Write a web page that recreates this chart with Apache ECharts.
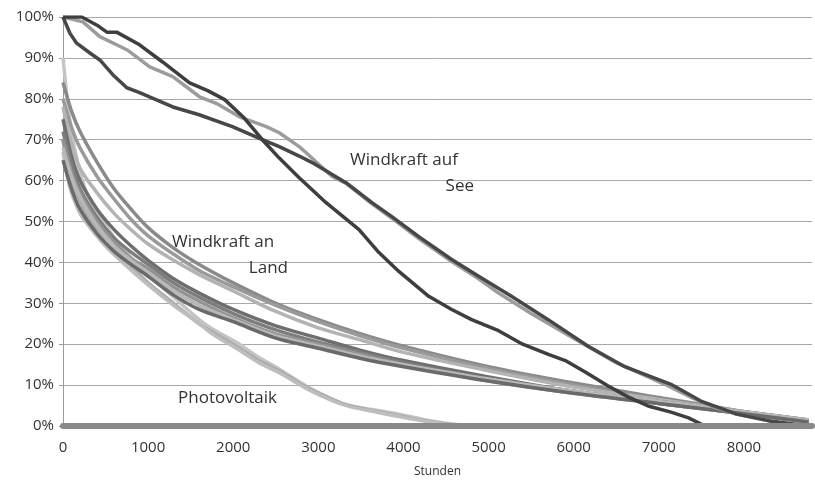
<!DOCTYPE html>
<html>
<head>
<meta charset="utf-8">
<script src="https://cdn.jsdelivr.net/npm/echarts@6/dist/echarts.min.js"></script>
<style>html,body{margin:0;padding:0;background:#fff;}#c{width:815px;height:483px;}</style>
</head>
<body>
<div id="c"></div>
<script>
// ---- Data ----
// Windkraft auf See (offshore)
const hoursSeeA = [0,220,400,515,630,900,1170,1487,1700,1900,2120,2342,2541,2775,3091,3478,3712,3946,4297,4567,4801,5117,5400,5703,5902,6150,6405,6650,6874,7143,7350,7541,8760];
const seeA = [100,100,98,96.3,96.3,93.2,89,83.9,82,79.8,75.5,70,65.5,60.7,54.6,48,42.4,37.8,31.7,28.5,26,23.3,20,17.5,16,13,9.8,7,4.9,3.4,2,0,0];
const hoursSeeB = [0,82,160,316,433,585,750,900,1290,1600,1990,2342,2541,2775,2927,3325,3630,3864,4180,4567,4883,5269,5700,6170,6600,7143,7494,7900,8313,8760];
const seeB = [100,96,93.6,91.2,89.5,85.9,82.7,81.5,78,76.1,73.2,70,68.3,66,64.4,59.5,54.6,51.2,46.3,40.7,36.6,31.7,26,19.5,14.5,10.2,6.1,3,1.2,0];
const hoursSeeC = [0,234,433,750,1019,1290,1604,1800,2073,2390,2541,2775,2857,3162,3325,3630,3864,4180,4567,4883,5117,5500,6018,6500,7070,7400,7611,7900,8243,8500,8760];
const seeC = [100,98.8,95.2,92,87.8,85.4,80.5,78.9,75.6,73.2,71.7,68.3,66.8,61,59.3,54.3,50.8,45.8,40.2,36,32.5,27.5,21.2,15.5,10.2,6.8,4.9,3,1.5,0.3,0];

// Windkraft an Land (onshore)
const hoursLand = [0,100,200,400,600,800,1000,1300,1600,2000,2500,3000,3500,4000,5000,6000,7000,8000,8760];
const land1 = [84,77,72,64.5,58,53,48.5,43.5,39.5,35,30,26,22.5,19.5,14.5,10.5,7,3.5,1];
const land2 = [80,73,68,61,55.5,50.5,46.5,42,38,34,29.5,25.5,22,19,14,10,6.5,3.5,1.2];
const land3 = [78,69,63,57,52,48,44.5,40.5,37,33,28,24,21,18,13.5,9.5,6.5,3.5,1.5];
const land4 = [75,66,60,53,48,44,40.5,36,32.5,28.5,24.5,21.5,18.5,16,12,8.5,6,3.5,1.5];
const land5 = [72,64,58,51,46,42.5,39.5,35,31.5,27.5,23.5,20.5,18,15.5,11.5,8.5,5.5,3,1];
const land6 = [70,62,57,50,45,41,38.5,34,30.5,26.5,22.5,20,17.5,15,11,8,5.5,3,1];
const land7 = [68,61,56,49,44,40.5,37.5,33,29.5,26,22,19.5,17,15,11.5,8.5,6,3.5,1.5];
const land8 = [65,58,53,47,42.7,39.5,36.6,32,28.5,25.5,21.5,19,16.5,14.5,11,8,5.5,3,1];

// Photovoltaik
const hoursPV = [0,50,100,200,300,500,700,1000,1300,1600,1756,2073,2300,2541,2857,3162,3360,3700,3946,4333,4600,5000,8760];
const pv1 = [90,80,72,62,56,49,43.5,37,31.5,26,23.7,20,16.8,13.9,9.8,6.6,5,3.8,2.9,1.2,0.4,0,0];
const pv2 = [70,64,60,55,51,45,41,35,30,25,23,19,16,13.5,9.5,6.5,5,3.5,2.5,1,0.3,0,0];
const pv3 = [67,61,57,52,49,44,40,34.5,29.5,25,22.5,18.5,15.5,13,9.2,6.2,4.8,3.3,2.3,0.9,0.2,0,0];

const xTicks = [0,1000,2000,3000,4000,5000,6000,7000,8000];

// ---- Build ----
function pairs(h, v){ return h.map((x,i)=>[x, v[i]]); }
function line(name, h, v, color, width, smooth){
  return { name, type:'line', data:pairs(h,v), showSymbol:false, symbol:'none', smooth:smooth||false,
    lineStyle:{color, width}, itemStyle:{color}, silent:true, animation:false };
}
const series = [
  line('PV1', hoursPV, pv1, '#c4c4c4', 3.5, 0.3),
  line('PV2', hoursPV, pv2, '#ababab', 3.5, 0.3),
  line('PV3', hoursPV, pv3, '#bdbdbd', 3.5, 0.3),
  line('Land1', hoursLand, land1, '#8a8a8a', 3.5, 0.3),
  line('Land2', hoursLand, land2, '#9a9a9a', 3.5, 0.3),
  line('Land3', hoursLand, land3, '#b3b3b3', 3.5, 0.3),
  line('Land4', hoursLand, land4, '#6e6e6e', 3.5, 0.3),
  line('Land5', hoursLand, land5, '#7d7d7d', 3.5, 0.3),
  line('Land6', hoursLand, land6, '#939393', 3.5, 0.3),
  line('Land7', hoursLand, land7, '#b8b8b8', 3.5, 0.3),
  line('Land8', hoursLand, land8, '#6a6a6a', 3.5, 0.3),
  line('See C', hoursSeeC, seeC, '#9c9c9c', 3.5),
  line('See B', hoursSeeB, seeB, '#474747', 3.5),
  line('See A', hoursSeeA, seeA, '#3e3e3e', 3.5)
];

const FONT = '"Open Sans", "Noto Sans", sans-serif';
const chart = echarts.init(document.getElementById('c'), null, {renderer:'canvas'});
chart.setOption({
  animation:false,
  backgroundColor:'#fff',
  grid:{left:63, right:0, top:17, bottom:56, containLabel:false},
  xAxis:{
    type:'value', min:0, max:8800, interval:1000, z:5,
    name:'Stunden', nameLocation:'middle', nameGap:40,
    nameTextStyle:{fontFamily:FONT, fontSize:12, color:'#333'},
    axisLine:{show:true, lineStyle:{color:'#8a8a8a', width:6}},
    axisTick:{show:false},
    splitLine:{show:false},
    axisLabel:{fontFamily:FONT, fontSize:15, color:'#333', margin:14,
      formatter:v => xTicks.indexOf(v) >= 0 ? String(v) : ''}
  },
  yAxis:{
    type:'value', min:0, max:100, interval:10,
    axisLine:{show:true, lineStyle:{color:'#9a9a9a', width:1}},
    axisTick:{show:true, length:4, lineStyle:{color:'#9a9a9a'}},
    splitLine:{show:true, lineStyle:{color:'#a8a8a8', width:1}},
    axisLabel:{fontFamily:FONT, fontSize:15, color:'#333', margin:9, formatter:'{value}%'}
  },
  graphic:[
    {type:'text', z:10, style:{text:'Windkraft auf', x:350, y:160, textAlign:'left', textVerticalAlign:'middle', font:'17px '+FONT, fill:'#333'}},
    {type:'text', z:10, style:{text:'See', x:474, y:186, textAlign:'right', textVerticalAlign:'middle', font:'17px '+FONT, fill:'#333'}},
    {type:'text', z:10, style:{text:'Windkraft an', x:172, y:242, textAlign:'left', textVerticalAlign:'middle', font:'17px '+FONT, fill:'#333'}},
    {type:'text', z:10, style:{text:'Land', x:288, y:268, textAlign:'right', textVerticalAlign:'middle', font:'17px '+FONT, fill:'#333'}},
    {type:'text', z:10, style:{text:'Photovoltaik', x:178, y:398, textAlign:'left', textVerticalAlign:'middle', font:'17px '+FONT, fill:'#333'}}
  ],
  series
});
</script>
</body>
</html>
